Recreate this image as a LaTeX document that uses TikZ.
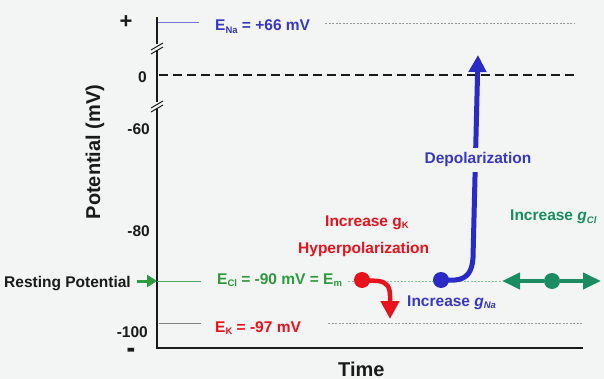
\documentclass[tikz,border=0pt]{standalone}
\usepackage{fontspec}
\setmainfont{Liberation Sans}
\usetikzlibrary{arrows.meta}

\definecolor{bgc}{HTML}{F2F5F4}
\definecolor{ink}{HTML}{1A1A1A}
\definecolor{nablue}{HTML}{3838C4}
\definecolor{arrblue}{HTML}{2A2AC6}
\definecolor{kred}{HTML}{E8121C}
\definecolor{clgreen}{HTML}{2E9A3E}
\definecolor{clteal}{HTML}{1B8C62}

% small subscript for the ion names
\newcommand{\lo}[1]{\raisebox{-0.35ex}{\fontsize{9.5}{10}\selectfont #1}}

\begin{document}
\begin{tikzpicture}[x=1pt,y=-1pt,
	lbl/.style={font=\fontsize{15.5}{17}\selectfont\bfseries, inner sep=0pt},
	tick/.style={lbl, anchor=base east, text=ink},
	ax/.style={ink, line width=2pt},
	refl/.style={line width=0.8pt},
	dotl/.style={line width=0.6pt, dash pattern=on 2pt off 1.5pt},
	gate/.style={circle, minimum size=16pt, inner sep=0pt},
	flow/.style={line width=4.5pt, -{Triangle[width=18pt,length=18pt]}}]
	\fill[bgc] (0,0) rectangle (604,379);
	\useasboundingbox (0,0) rectangle (604,379);
	% axes with breaks
	\draw[ax] (157,17) -- (157,44);
	\draw[ax] (157,50) -- (157,102);
	\draw[ax] (157,108) -- (157,348) -- (583,348);
	\foreach \y in {47,105} {
		\draw[ink, line width=1pt] (151,\y+3) -- (163,\y-4);
		\draw[ink, line width=1pt] (151,\y+7) -- (163,\y);
	}
	\node[lbl, font=\fontsize{22}{22}\selectfont\bfseries, text=ink] (plus) at (126,22) {+};
	\node[lbl, font=\fontsize{20}{20}\selectfont\bfseries, text=ink, anchor=base] (minus) at (131,358) {\scalebox{1.3}[1.6]{-}};
	\node[tick] (t0) at (147,83) {0};
	\node[tick] (t60) at (150,135) {-60};
	\node[tick] (t80) at (150,236) {-80};
	\node[tick] (t100) at (148,337) {-100};
	\node[lbl, font=\fontsize{20}{22}\selectfont\bfseries, text=ink, rotate=90] (ylab) at (95,152) {Potential (mV)};
	\node[lbl, font=\fontsize{20}{22}\selectfont\bfseries, text=ink, anchor=base west] (xlab) at (338,376) {Time};
	% levels
	\draw[refl, nablue!70] (158,22.5) -- (199,22.5);
	\draw[dotl, gray!80] (325,23) -- (575,23);
	\draw[ink, line width=2pt, dash pattern=on 9pt off 5pt] (159,75) -- (575,75);
	\draw[refl, clgreen!85] (157,281) -- (201,281);
	\draw[dotl, clgreen!60] (348,281) -- (502,281);
	\draw[refl, gray] (159,323) -- (201,323);
	\draw[dotl, gray!80] (328,323) -- (582,323);
	\node[lbl, text=nablue, anchor=base west] (ena) at (215,31) {E\lo{Na} = +66 mV};
	\node[lbl, text=clgreen, anchor=base west] (ecl) at (217,284) {E\lo{Cl} = -90 mV = E\lo{m}};
	\node[lbl, text=kred, anchor=base west] (ek) at (215,332) {E\lo{K} = -97 mV};
	% resting potential
	\node[lbl, text=ink, anchor=base east] (rest) at (131,287) {Resting Potential};
	\coordinate (restin) at (157,281);
	\draw[clgreen, line width=3pt, -{Triangle[width=12pt,length=10pt]}] (rest.east |- restin) ++(6,0) -- (restin);
	% potassium
	\node[gate, fill=kred] (kdot) at (362,280) {};
	\coordinate (ktip) at (390,319);
	\draw[flow, kred] (kdot.center) -- (378,281) .. controls (387,282) and (390,287) .. (390,296) -- (ktip);
	\node[lbl, text=kred, anchor=base west] (gk) at (325,226) {Increase g\lo{K}};
	\node[lbl, text=kred, anchor=base west] (hyper) at (298,253) {Hyperpolarization};
	% sodium
	\coordinate (natip) at (478,55);
	\draw[flow, line width=5pt, arrblue, -{Triangle[width=17pt,length=17pt]}] (441,280) -- (455,280) .. controls (467,279) and (472,272) .. (473,258) -- (natip);
	\node[gate, fill=arrblue] (nadot) at (441,280) {};
	\node[lbl, text=nablue, fill=bgc, inner ysep=5pt, inner xsep=1pt, anchor=base] (depol) at (478,164) {Depolarization};
	\node[lbl, text=nablue, anchor=base west] (gna) at (407,306) {Increase \textit{g}\lo{\textit{Na}}};
	% chloride
	\node[gate, fill=clteal] (cldot) at (552,281) {};
	\coordinate (clleft) at (502,281);
	\coordinate (clright) at (601,281);
	\draw[flow, line width=4pt, clteal, -{Triangle[width=16pt,length=18pt]}] (cldot.west) -- (clleft);
	\draw[flow, line width=4pt, clteal, -{Triangle[width=16pt,length=18pt]}] (cldot.east) -- (clright);
	\node[lbl, text=clteal, anchor=base west] (gcl) at (510,221) {Increase \textit{g}\lo{\textit{Cl}}};
\end{tikzpicture}
\end{document}
